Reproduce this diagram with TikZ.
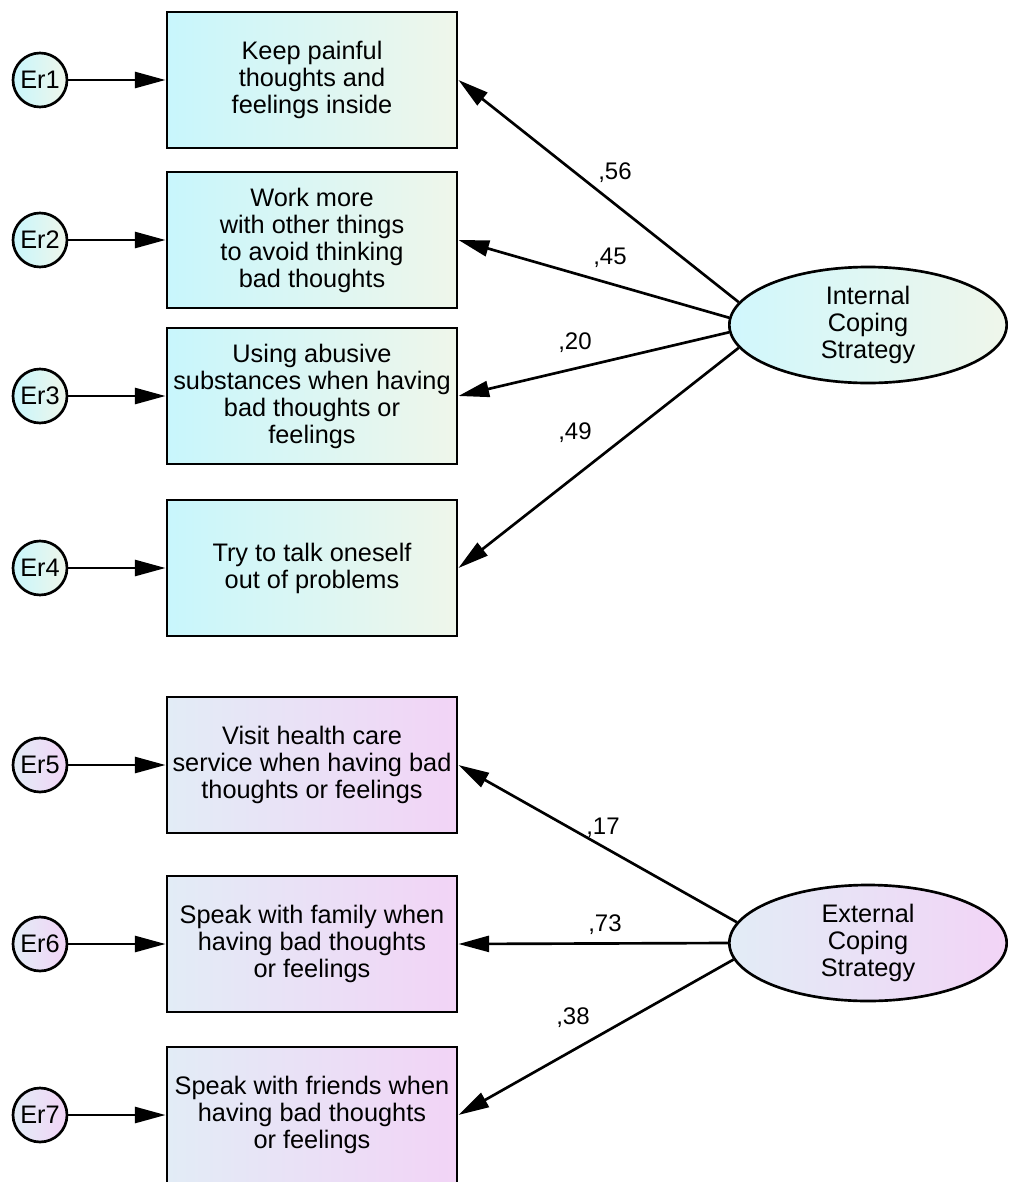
\documentclass[tikz,border=0pt]{standalone}
\usepackage{fontspec}
\setmainfont{Liberation Sans}
\usetikzlibrary{arrows.meta,shapes.geometric}
\definecolor{topL}{HTML}{C8F6FC}
\definecolor{topR}{HTML}{EFF6EA}
\definecolor{botL}{HTML}{E2ECF6}
\definecolor{botR}{HTML}{F2D4F6}
\begin{document}
\begin{tikzpicture}[x=0.75pt,y=-0.75pt,
  txt/.style={font=\fontsize{19}{20.25}\selectfont},
  obs/.style={draw, line width=2.2pt, minimum width=217.5pt, minimum height=102pt,
    align=center, inner sep=0pt, txt},
  errc/.style={draw, circle, line width=2pt, minimum size=40.5pt, inner sep=0pt, txt},
  lat/.style={draw, ellipse, line width=2pt, minimum width=208pt, minimum height=87pt,
    align=center, inner sep=0pt, txt},
  tcol/.style={left color=topL, right color=topR},
  bcol/.style={left color=botL, right color=botR},
  arr/.style={line width=2pt, -{Triangle[length=23pt,width=12pt]}},
  coef/.style={font=\fontsize{18}{20}\selectfont, inner sep=0pt}
]
\clip (0,0) rectangle (1008,1182);
\fill[white] (0,0) rectangle (1008,1182);

% observed boxes
\node[obs,tcol] (b1) at (312,80) {Keep painful\\thoughts and\\feelings inside};
\node[obs,tcol] (b2) at (312,240) {Work more\\with other things\\to avoid thinking\\bad thoughts};
\node[obs,tcol] (b3) at (312,396) {Using abusive\\substances when having\\bad thoughts or\\feelings};
\node[obs,tcol] (b4) at (312,568) {Try to talk oneself\\out of problems};
\node[obs,bcol] (b5) at (312,765) {Visit health care\\service when having bad\\thoughts or feelings};
\node[obs,bcol] (b6) at (312,944) {Speak with family when\\having bad thoughts\\or feelings};
\node[obs,bcol] (b7) at (312,1115) {Speak with friends when\\having bad thoughts\\or feelings};

% error circles
\node[errc,tcol] (e1) at (40,80) {Er1};
\node[errc,tcol] (e2) at (40,240) {Er2};
\node[errc,tcol] (e3) at (40,396) {Er3};
\node[errc,tcol] (e4) at (40,568) {Er4};
\node[errc,bcol] (e5) at (40,765) {Er5};
\node[errc,bcol] (e6) at (40,944) {Er6};
\node[errc,bcol] (e7) at (40,1115) {Er7};

\foreach \i in {1,...,7} { \draw[arr] (e\i) -- (b\i); }

% latent variables
\node[lat,left color=topL!85!white,right color=topR] (int) at (868,325) {Internal\\Coping\\Strategy};
\node[lat,bcol] (ext) at (868,943) {External\\Coping\\Strategy};

\draw[arr] (int.170) -- (b1.east);
\draw[arr] (int.177) -- (b2.east);
\draw[arr] (int.183) -- (b3.east);
\draw[arr] (int.190) -- (b4.east);
\draw[arr] (ext.171) -- (b5.east);
\draw[arr] (ext.west) -- (b6.east);
\draw[arr] (ext.187) -- (b7.east);

% coefficients
\node[coef] (c1) at (615,173) {,56};
\node[coef] (c2) at (610,258) {,45};
\node[coef] (c3) at (575,343) {,20};
\node[coef] (c4) at (575,433) {,49};
\node[coef] (c5) at (603,828) {,17};
\node[coef] (c6) at (605,925) {,73};
\node[coef] (c7) at (573,1018) {,38};
\end{tikzpicture}
\end{document}
